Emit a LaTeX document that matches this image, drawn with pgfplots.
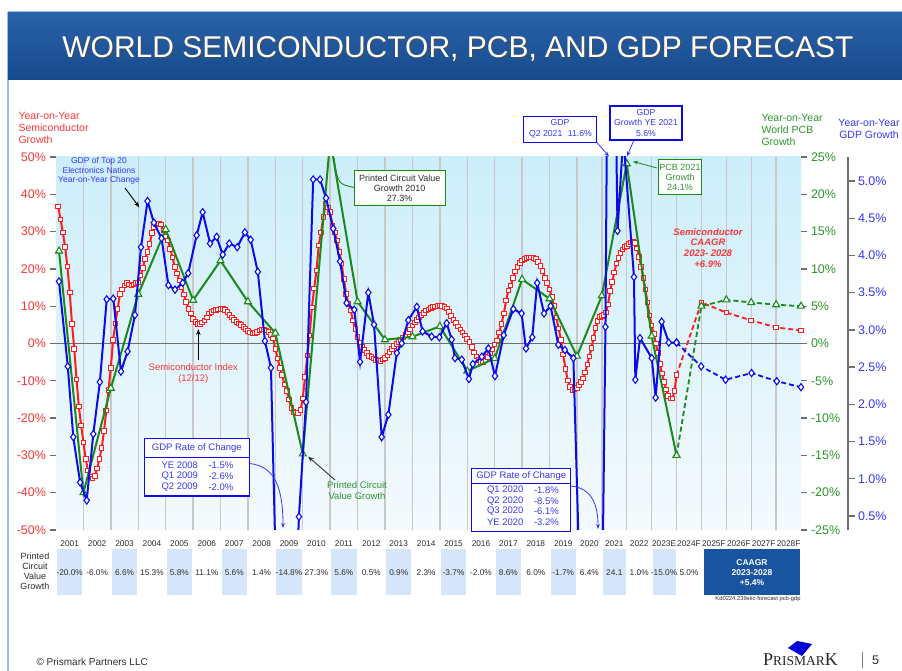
\documentclass[border=0pt]{standalone}
\usepackage{pgfplots}
\pgfplotsset{compat=1.18}
\usepackage{pgfplotstable}
\usepackage{fontspec}
\setmainfont{Liberation Sans}
\newfontfamily\logofont{Liberation Serif}
\usetikzlibrary{arrows.meta}

\definecolor{semired}{RGB}{255,28,28}
\definecolor{pcbgreen}{RGB}{26,138,26}
\definecolor{gdpblue}{RGB}{12,12,235}
\definecolor{txtred}{RGB}{250,55,55}
\definecolor{txtgreen}{RGB}{45,150,45}
\definecolor{txtblue}{RGB}{55,55,250}
\definecolor{txtgray}{RGB}{45,45,45}
\definecolor{barblue}{RGB}{24,84,160}
\definecolor{cellblue}{RGB}{214,230,250}
\definecolor{bgtop}{RGB}{204,238,250}
\definecolor{bgbot}{RGB}{244,250,253}
\definecolor{gridgray}{RGB}{200,200,200}
\definecolor{axgray}{RGB}{110,110,110}
\definecolor{framecol}{RGB}{150,190,235}

\newcommand\fs[2]{\fontsize{#1}{#2}\selectfont}

% semiconductor 12/12 growth, monthly, Jan 2001 - Dec 2019
\pgfplotstableread[row sep=\\,header=false]{
36.7\\33.2\\29.8\\25.8\\20.6\\13.7\\5.3\\-1.5\\-9.7\\-16.9\\-22\\-26.5\\
-31\\-34\\-35.8\\-36.2\\-35.5\\-33.5\\-31\\-28\\-23.5\\-18\\-12.4\\-6.5\\
1\\5.4\\9.3\\13.3\\14.5\\15.5\\16.2\\15.8\\15.5\\15.8\\16.2\\16.3\\
18.2\\20.2\\22.7\\24.5\\26.7\\29.6\\31.2\\32.1\\32.2\\31.9\\30.3\\28.5\\
27.6\\25.4\\23.1\\20.5\\18.8\\16.9\\15.1\\13.1\\11.1\\9.3\\8\\6.6\\
5.8\\5.3\\5.3\\5.6\\6.2\\7\\8\\8.5\\8.8\\9\\9.1\\9.3\\
9.2\\9\\8.5\\7.6\\7\\6.3\\5.8\\5.4\\4.9\\4.4\\3.9\\3.4\\
3.0\\2.7\\2.8\\3.1\\3.5\\3.8\\3.8\\3.5\\3.1\\2.2\\1.3\\-1.5\\
-4\\-6.5\\-8.5\\-11\\-12.8\\-15\\-17.3\\-18.3\\-18.7\\-18.7\\-17.8\\-14.8\\
-9\\-3.2\\2.1\\9.7\\14.7\\19.6\\26.3\\29.8\\33.9\\37.5\\36.5\\35.2\\
31.6\\29.8\\27.6\\24.5\\21.4\\17.3\\13.3\\10.6\\8.8\\6.2\\3.9\\1.7\\
0.3\\-0.9\\-1.8\\-2.6\\-3.3\\-3.7\\-4.0\\-4.4\\-4.6\\-4.7\\-4.3\\-3.9\\
-3.2\\-2.3\\-1.4\\-0.7\\-0.2\\0.4\\1\\1.6\\2.2\\2.9\\3.8\\4.8\\
5.6\\6.3\\7\\7.6\\8.2\\8.8\\9.1\\9.5\\9.8\\9.9\\10.1\\10.2\\
10.1\\9.8\\9.4\\8.5\\7.3\\6.3\\5.5\\4.6\\3.8\\2.9\\2.1\\1.2\\
0.4\\-0.9\\-2.4\\-3.5\\-4.4\\-4.9\\-5.0\\-4.6\\-3.6\\-2.6\\-1.6\\-0.3\\
0.8\\3\\5.3\\8\\11.5\\14.2\\15.5\\17.5\\19.3\\20.5\\21.5\\22.3\\
22.7\\23\\23.1\\23.1\\23\\22.6\\21.8\\20.8\\19.5\\17.5\\16.2\\14.5\\
12.5\\10\\7\\4\\1\\-3\\-6.8\\-9.9\\-11.7\\-12.4\\-12.3\\-12\\
}\semiA

% Dec 2019 - Dec 2023 (later years drawn narrower on the slide)
\pgfplotstableread[row sep=\\,header=false]{
-12\\
-11.2\\-10.3\\-9.4\\-7.8\\-5.6\\-3.5\\-1.2\\1.5\\4.2\\6\\7.1\\7.4\\
7.7\\8.3\\10.5\\14\\16.5\\19\\21.4\\23\\24.3\\25.2\\25.8\\26.1\\
26.6\\27.1\\27.3\\27\\25.5\\23.2\\20.5\\17.5\\14.5\\11\\7.5\\4.8\\
2.5\\0\\-2.5\\-5.5\\-8\\-10.3\\-12.3\\-14\\-14.7\\-14.8\\-12.8\\-8.5\\
}\semiB

\pgfplotsset{
  slide/.style={
    at={(56pt,141pt)}, anchor=south west,
    scale only axis, width=745pt, height=373pt,
    xmin=2001, xmax=2028.172,
    axis line style={draw=none},
    tick align=outside,
    major tick length=6.5pt,
    ytick style={axgray, line width=1.3pt},
    xtick=\empty,
    /pgf/number format/assume math mode=true,
  },
}

\begin{document}
\begin{tikzpicture}
\useasboundingbox (0,0) rectangle (902pt,671pt);
\fill[white] (0,0) rectangle (902pt,671pt);

\begin{scope}[x=1pt,y=-1pt,shift={(0pt,671pt)}]
  \draw[framecol, line width=1.5pt] (8,12) -- (8,671);
  \draw[framecol, line width=1pt] (8,12) -- (902,12);
  \shade[top color=barblue!92!white, bottom color=barblue!88!black] (8,13) rectangle (902,80);
  \node[anchor=base, text=black!70, font=\fs{30}{30}] at (459,59) {WORLD SEMICONDUCTOR, PCB, AND GDP FORECAST};
  \node[anchor=base, text=white, font=\fs{30}{30}] at (458,58) {WORLD SEMICONDUCTOR, PCB, AND GDP FORECAST};

  \node[anchor=west, align=left, text=txtred, font=\fs{10.5}{12}] at (15,128) {Year-on-Year\\Semiconductor\\Growth};
  \node[anchor=west, align=left, text=txtgreen, font=\fs{10.5}{11.7}] at (758,130) {Year-on-Year\\World PCB\\Growth};
  \node[align=center, text=txtblue, font=\fs{10.5}{11.7}] at (869,129) {Year-on-Year\\GDP Growth};
\end{scope}

% semiconductor (left axis)
\begin{axis}[slide,
  ymin=-50, ymax=50,
  ytick={-50,-40,...,50},
  ytick pos=left,
  yticklabel={\pgfmathprintnumber{\tick}\%},
  yticklabel style={text=txtred, font=\fs{12.5}{12.5}},
  xtick={2002,2003,...,2020,2020.908,2021.816,2022.724,2023.632,2024.54,2025.448,2026.356,2027.264},
  xticklabels={},
  xtick style={draw=none},
  xmajorgrids,
  major x grid style={gridgray, line width=1.4pt},
  axis background/.style={top color=bgtop, bottom color=bgbot},
]
\draw[axgray, line width=1.5pt] (rel axis cs:0,0.5) -- (rel axis cs:1,0.5);
\addplot[semired, line width=2pt, mark=square*, mark size=2.3pt,
  mark options={fill=white, line width=1pt}]
  table[x expr=2001+(\coordindex+1)/12, y index=0] {\semiA};
\addplot[semired, line width=2pt, mark=square*, mark size=2.3pt,
  mark options={fill=white, line width=1pt}]
  table[x expr=2020+0.07567*\coordindex, y index=0] {\semiB};
\addplot[semired, line width=1.8pt, dash pattern=on 5pt off 3pt, mark=square*, mark size=2.3pt,
  mark options={solid, fill=white, line width=1pt}]
  coordinates {(2023.632,-8.5) (2024.54,11.0) (2025.448,8.3) (2026.356,6.2) (2027.264,4.3) (2028.172,3.5)};
\end{axis}

% PCB (green right axis)
\begin{axis}[slide,
  ymin=-25, ymax=25,
  ytick={-25,-20,...,25},
  ytick pos=right,
  yticklabel={\pgfmathprintnumber{\tick}\%},
  yticklabel style={text=txtgreen, font=\fs{12.5}{12.5}},
]
\addplot[pcbgreen, line width=2pt, mark=triangle*, mark size=4pt,
  mark options={fill=white, line width=1.1pt}]
  coordinates {(2001.11,12.4) (2002,-20.0) (2003,-6.0) (2004,6.6) (2005,15.3) (2006,5.8)
   (2007,11.1) (2008,5.6) (2009,1.4) (2010,-14.8) (2011,27.3) (2012,5.6) (2013,0.5)
   (2014,0.9) (2015,2.3) (2016,-3.7) (2017,-2.0) (2018,8.6) (2019,6.0) (2020,-1.7)
   (2020.908,6.4) (2021.816,24.1) (2022.724,1.0) (2023.632,-15.0)};
\addplot[pcbgreen, line width=1.8pt, dash pattern=on 5pt off 3pt, mark=triangle*, mark size=4pt,
  mark options={solid, fill=white, line width=1.1pt}]
  coordinates {(2023.632,-15.0) (2024.54,5.0) (2025.448,5.85) (2026.356,5.5) (2027.264,5.2) (2028.172,5.0)};
\end{axis}

% GDP (blue axis)
\begin{axis}[slide, ymin=0.312, ymax=5.322, ytick=\empty]
\addplot[gdpblue, line width=2pt, mark=diamond*, mark size=3.6pt,
  mark options={fill=white, line width=1.1pt}]
  coordinates {(2001.11,3.65) (2001.43,2.51) (2001.63,1.56) (2001.88,0.95) (2002.12,0.71)
   (2002.36,1.60) (2002.60,2.30) (2002.85,3.41) (2003.09,3.42) (2003.37,2.44) (2003.61,2.71)
   (2003.88,3.20) (2004.10,4.11) (2004.34,4.73) (2004.57,4.44) (2004.85,4.23) (2005.10,3.60)
   (2005.34,3.54) (2005.62,3.63) (2005.82,3.76) (2006.13,4.27) (2006.35,4.58) (2006.62,4.16)
   (2006.86,4.25) (2007.08,4.01) (2007.32,4.16) (2007.61,4.11) (2007.89,4.31) (2008.10,4.21)
   (2008.36,3.78) (2008.62,2.85) (2008.84,2.49) (2009.10,-1.5) (2009.35,-2.6) (2009.60,-2.0)
   (2009.86,0.49) (2010.12,2.03) (2010.38,5.02) (2010.63,5.02) (2010.85,4.77) (2011.11,4.36)
   (2011.36,3.92) (2011.60,3.36) (2011.88,3.27) (2012.09,2.57) (2012.39,3.50) (2012.60,3.07)
   (2012.88,1.56) (2013.12,1.86) (2013.43,2.69) (2013.61,2.82) (2013.85,3.13) (2014.16,3.31)
   (2014.37,2.98) (2014.70,2.91) (2014.98,2.90) (2015.25,3.09) (2015.43,2.87) (2015.55,2.62)
   (2015.80,2.60) (2016.06,2.34) (2016.20,2.54) (2016.53,2.64) (2016.77,2.75) (2017.01,2.38)
   (2017.33,2.93) (2017.68,3.28) (2017.98,3.22) (2018.14,2.75) (2018.37,2.90) (2018.55,3.63)
   (2018.80,3.22) (2019.04,3.32) (2019.32,2.80) (2019.56,2.73) (2019.87,2.62) (2020.21,-1.8)
   (2020.42,-8.5) (2020.63,-6.1) (2020.84,-3.2) (2021.04,3.04) (2021.21,11.6) (2021.48,4.33)
   (2021.69,5.6) (2022.08,3.71) (2022.13,2.33) (2022.30,2.89) (2022.73,2.62) (2022.87,2.09)
   (2023.09,3.11) (2023.35,2.83) (2023.632,2.83)};
\addplot[gdpblue, line width=1.8pt, dash pattern=on 5pt off 3pt, mark=diamond*, mark size=3.6pt,
  mark options={solid, fill=white, line width=1.1pt}]
  coordinates {(2023.632,2.83) (2024.53,2.51) (2025.42,2.33) (2026.37,2.42) (2027.29,2.31) (2028.172,2.23)};
\end{axis}

\begin{axis}[at={(847pt,141pt)}, anchor=south west, scale only axis,
  width=1pt, height=373pt, xmin=0, xmax=1, ymin=0.312, ymax=5.322,
  hide x axis, axis y line*=right,
  y axis line style={axgray, line width=1.5pt, -},
  ytick={0.5,1,...,5}, tick align=outside, major tick length=6.5pt,
  ytick style={axgray, line width=1.3pt},
  yticklabel={\pgfmathprintnumber[fixed,fixed zerofill,precision=1]{\tick}\%},
  yticklabel style={text=txtblue, font=\fs{12.5}{12.5}},
  /pgf/number format/assume math mode=true]
\end{axis}

\begin{scope}[x=1pt,y=-1pt,shift={(0pt,671pt)}]
  % callouts
  \node[align=center, text=txtblue, font=\fs{8.5}{9.6}] at (99,171) {GDP of Top 20\\Electronics Nations\\Year-on-Year Change};
  \draw[-{Stealth[length=6pt]}, line width=0.9pt] (125,188) -- (139.5,207.5);

  \draw[pcbgreen, line width=0.9pt] (354,187.5) .. controls (338,184) .. (334,158);
  \node[draw=pcbgreen, fill=white, line width=1pt, align=center, text=txtgray,
    minimum width=91pt, minimum height=35pt, inner sep=1pt, font=\fs{9}{10}] at (399.7,188.5)
    {Printed Circuit Value\\Growth 2010\\27.3\%};

  \node[align=center, text=txtred, font=\fs{9.5}{11}] at (193.3,373.5) {Semiconductor Index\\(12/12)};
  \draw[-{Stealth[length=6pt]}, line width=0.9pt] (198.3,360) -- (198.3,329);

  \draw[txtblue, line width=0.8pt, -{Stealth[length=5pt]}] (249.3,463.5) .. controls (276,466) and (283,490) .. (283,528);
  \draw[gdpblue, line width=1.3pt, fill=white] (144.3,438.3) rectangle (249.3,496);
  \draw[gdpblue, line width=1pt] (144.3,457.3) -- (249.3,457.3);
  \begin{scope}[text=txtblue, font=\fs{9.5}{9.5}]
    \node at (196.8,448) {GDP Rate of Change};
    \node[anchor=west] at (158,465.5) {YE 2008};
    \node[anchor=west] at (205,465.5) {-1.5\%};
    \node[anchor=west] at (158,476.2) {Q1 2009};
    \node[anchor=west] at (205,476.2) {-2.6\%};
    \node[anchor=west] at (158,486.8) {Q2 2009};
    \node[anchor=west] at (205,486.8) {-2.0\%};
  \end{scope}

  \node[align=center, text=txtgreen, font=\fs{9.5}{10.7}] at (357,490.3) {Printed Circuit\\Value Growth};
  \draw[-{Stealth[length=6pt]}, line width=0.9pt, black!80] (335,480) -- (308,456.5);

  \draw[txtblue, line width=0.8pt, -{Stealth[length=5pt]}] (570.7,486) .. controls (592,488) and (598,505) .. (598,529);
  \draw[gdpblue, line width=1.3pt, fill=white] (471.7,468.3) rectangle (570.7,531.7);
  \draw[gdpblue, line width=1pt] (471.7,483.3) -- (570.7,483.3);
  \begin{scope}[text=txtblue, font=\fs{9.5}{9.5}]
    \node at (521.2,476) {GDP Rate of Change};
    \node[anchor=west] at (483.5,490.2) {Q1 2020};
    \node[anchor=west] at (530.5,490.2) {-1.8\%};
    \node[anchor=west] at (483.5,500.9) {Q2 2020};
    \node[anchor=west] at (530.5,500.9) {-8.5\%};
    \node[anchor=west] at (483.5,511.5) {Q3 2020};
    \node[anchor=west] at (530.5,511.5) {-6.1\%};
    \node[anchor=west] at (483.5,522.2) {YE 2020};
    \node[anchor=west] at (530.5,522.2) {-3.2\%};
  \end{scope}

  \draw[txtblue, line width=0.8pt, -{Stealth[length=5pt]}] (596.5,142) -- (609,156.5);
  \draw[gdpblue, line width=1.2pt, fill=white] (523.3,116.7) rectangle (596.7,142.3);
  \begin{scope}[text=txtblue, font=\fs{8.7}{8.7}]
    \node at (560,123) {GDP};
    \node[anchor=west] at (525.5,134) {Q2 2021};
    \node[anchor=east] at (595.5,134) {11.6\%};
  \end{scope}

  \draw[txtblue, line width=0.8pt, -{Stealth[length=5pt]}] (634,140) -- (627,156.5);
  \node[draw=gdpblue, line width=1.2pt, fill=white, align=center, text=txtblue,
    minimum width=72pt, minimum height=34pt, inner sep=1pt, font=\fs{8.7}{10.5}] at (646,123)
    {GDP\\Growth YE 2021\\5.6\%};

  \draw[pcbgreen, line width=0.8pt, -{Stealth[length=5pt]}] (657,168) -- (633,161.5);
  \node[draw=pcbgreen, line width=1pt, fill=white, align=center, text=txtgreen,
    minimum width=43.4pt, minimum height=35pt, inner sep=1pt, font=\fs{9}{10.2}] at (680,177.5)
    {PCB 2021\\Growth\\24.1\%};

  \node[align=center, text=txtred, font=\fs{9.5}{10.8}\bfseries\itshape] at (708,248)
    {Semiconductor\\CAAGR\\2023- 2028\\+6.9\%};

  % table under the axis
  \node[align=center, text=txtgray, font=\fs{9}{10}] at (35,571) {Printed\\Circuit\\Value\\Growth};
  \foreach \Y/\lab/\val in {2001/2001/-20.0\%,2002/2002/-6.0\%,2003/2003/6.6\%,2004/2004/15.3\%,
      2005/2005/5.8\%,2006/2006/11.1\%,2007/2007/5.6\%,2008/2008/1.4\%,2009/2009/-14.8\%,
      2010/2010/27.3\%,2011/2011/5.6\%,2012/2012/0.5\%,2013/2013/0.9\%,2014/2014/2.3\%,
      2015/2015/-3.7\%,2016/2016/-2.0\%,2017/2017/8.6\%,2018/2018/6.0\%,2019/2019/-1.7\%,
      2020/2020/6.4\%,2021/2021/24.1,2022/2022/1.0\%,2023/2023E/-15.0\%,2024/2024F/5.0\%,
      2025/2025F/,2026/2026F/,2027/2027F/,2028/2028F/}{
    \pgfmathsetmacro\xa{56+27.418*(min(\Y,2020)+0.908*max(\Y-2020,0)-2001)}
    \pgfmathsetmacro\xb{56+27.418*(min(\Y+1,2020)+0.908*max(\Y+1-2020,0)-2001)}
    \pgfmathsetmacro\xc{(\xa+\xb)/2}
    \ifodd\Y\relax\ifnum\Y<2024\relax
      \fill[cellblue] (\xa+1,549) rectangle (\xb-1,595);
    \fi\fi
    \node[text=txtgray, font=\fs{8.3}{8.3}] at (\xc,543.5) {\lab};
    \node[text=txtgray, font=\fs{8.3}{8.3}] at (\xc,573) {\val};
  }
  \fill[barblue] (704,549) rectangle (800,595);
  \node[align=center, text=white, font=\fs{8.5}{9.8}\bfseries] at (752,572.5) {CAAGR\\2023-2028\\+5.4\%};
  \node[text=txtgray, font=\fs{5.8}{5.8}] at (758,599.5) {Kd0224.239skc-forecast pcb-gdp};

  % footer
  \node[anchor=west, text=txtgray, font=\fs{10}{10}] at (33,662) {\textcopyright{} Prismark Partners LLC};
  \fill[blue!85!black] (788,648) -- (797,641) -- (812,644) -- (802,656) -- cycle;
  \node[anchor=base west, text=black!85, inner sep=0] at (763,666)
    {\logofont\fs{18}{18}P\fs{13.5}{13.5}RISMAR\fs{18}{18}K};
  \draw[gray, line width=1pt] (862,652) -- (862,668);
  \node[anchor=base west, text=txtgray, font=\fs{12.5}{12.5}, inner sep=0] at (872,665) {5};
\end{scope}
\end{tikzpicture}
\end{document}
